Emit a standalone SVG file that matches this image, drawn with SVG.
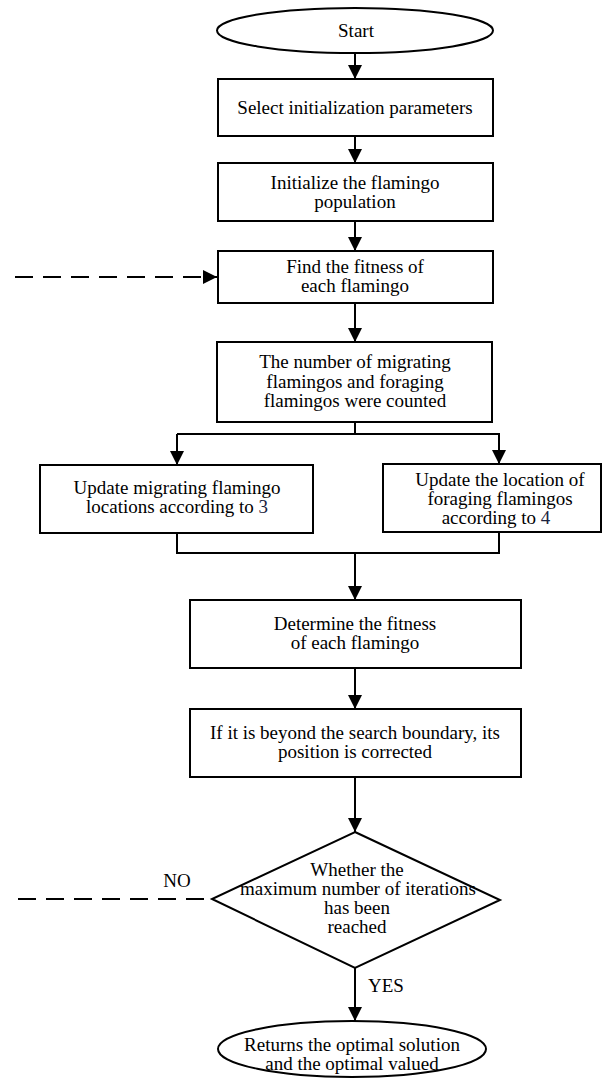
<svg xmlns="http://www.w3.org/2000/svg" width="603" height="1079" viewBox="0 0 603 1079">
<defs>
<marker id="ah" viewBox="0 0 14 14" refX="14" refY="7" markerWidth="14" markerHeight="14" markerUnits="userSpaceOnUse" orient="auto">
<path d="M0,0 L14,7 L0,14 Z" fill="#000"/>
</marker>
<style>
.n{fill:#fff;stroke:#000;stroke-width:2}
.t{font-family:"Liberation Serif","Times New Roman",serif;font-size:19px;fill:#000;text-anchor:middle}
.c{fill:none;stroke:#000;stroke-width:2}
.d{fill:none;stroke:#000;stroke-width:2;stroke-dasharray:18 10}
.num{fill:#1a2340}
</style>
</defs>
<rect width="603" height="1079" fill="#fff"/>
<g id="connectors">
<line class="c" x1="355" y1="53" x2="355" y2="79" marker-end="url(#ah)"/>
<line class="c" x1="355" y1="136" x2="355" y2="163" marker-end="url(#ah)"/>
<line class="c" x1="355" y1="221" x2="355" y2="251" marker-end="url(#ah)"/>
<line class="c" x1="355" y1="303" x2="355" y2="342" marker-end="url(#ah)"/>
<polyline class="c" points="355,422 355,434"/>
<polyline class="c" points="177,434 499,434 499,464" marker-end="url(#ah)"/>
<line class="c" x1="177" y1="434" x2="177" y2="465" marker-end="url(#ah)"/>
<polyline class="c" points="177,533 177,553 499,553 499,532"/>
<line class="c" x1="355" y1="553" x2="355" y2="600" marker-end="url(#ah)"/>
<line class="c" x1="355" y1="668" x2="355" y2="709" marker-end="url(#ah)"/>
<line class="c" x1="355" y1="777" x2="355" y2="832" marker-end="url(#ah)"/>
<line class="c" x1="355" y1="968" x2="355" y2="1021" marker-end="url(#ah)"/>
<line class="d" x1="15" y1="277" x2="217" y2="277" marker-end="url(#ah)"/>
<line class="d" x1="18" y1="899" x2="212" y2="899"/>
<text class="t" x="177" y="887">NO</text>
<text class="t" x="386" y="992">YES</text>
</g>
<g id="start">
<ellipse class="n" cx="355" cy="30.5" rx="138" ry="22.5"/>
<text class="t" x="356" y="37">Start</text>
</g>
<g id="select">
<rect class="n" x="218" y="79" width="275" height="57"/>
<text class="t" x="355" y="114">Select initialization parameters</text>
</g>
<g id="init">
<rect class="n" x="218" y="163" width="275" height="58"/>
<text class="t" x="355" y="189">Initialize the flamingo</text>
<text class="t" x="355" y="208">population</text>
</g>
<g id="fitness1">
<rect class="n" x="218" y="251" width="275" height="52"/>
<text class="t" x="355" y="273">Find the fitness of</text>
<text class="t" x="355" y="292">each flamingo</text>
</g>
<g id="count">
<rect class="n" x="217" y="342" width="275" height="80"/>
<text class="t" x="355" y="368">The number of migrating</text>
<text class="t" x="355" y="388">flamingos and foraging</text>
<text class="t" x="355" y="407">flamingos were counted</text>
</g>
<g id="migrating">
<rect class="n" x="40" y="465" width="273" height="68"/>
<text class="t" x="177" y="494">Update migrating flamingo</text>
<text class="t" x="177" y="513">locations according to <tspan class="num">3</tspan></text>
</g>
<g id="foraging">
<rect class="n" x="383" y="464" width="218" height="68"/>
<text class="t" x="500" y="486">Update the location of</text>
<text class="t" x="500" y="505">foraging flamingos</text>
<text class="t" x="496" y="524">according to <tspan class="num">4</tspan></text>
</g>
<g id="fitness2">
<rect class="n" x="190" y="600" width="331" height="68"/>
<text class="t" x="355" y="630">Determine the fitness</text>
<text class="t" x="355" y="649">of each flamingo</text>
</g>
<g id="boundary">
<rect class="n" x="190" y="709" width="331" height="68"/>
<text class="t" x="355" y="739">If it is beyond the search boundary, its</text>
<text class="t" x="355" y="758">position is corrected</text>
</g>
<g id="decision">
<polygon class="n" points="355,832 500,900 355,968 212,899"/>
<text class="t" x="357" y="876">Whether the</text>
<text class="t" x="358" y="895">maximum number of iterations</text>
<text class="t" x="357" y="914">has been</text>
<text class="t" x="357" y="933">reached</text>
</g>
<g id="end">
<ellipse class="n" cx="352" cy="1049" rx="134" ry="28"/>
<text class="t" x="352" y="1051">Returns the optimal solution</text>
<text class="t" x="352" y="1070">and the optimal valued</text>
</g>
</svg>
